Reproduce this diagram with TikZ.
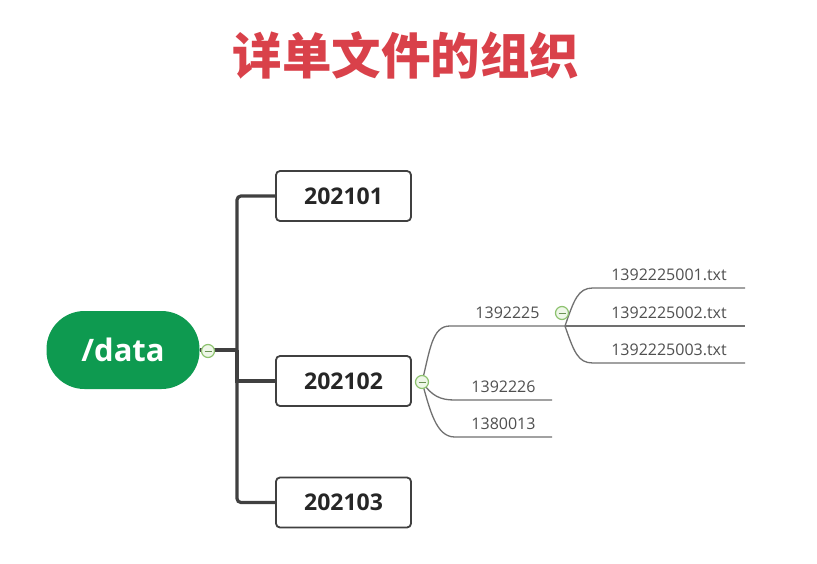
\documentclass[tikz,border=0pt]{standalone}
\usepackage{fontspec}
\setmainfont{Open Sans}
\newfontfamily\cjk{Noto Sans CJK SC}
\definecolor{titlered}{HTML}{D9414A}
\definecolor{pillgreen}{HTML}{0E9A50}
\definecolor{togglering}{HTML}{8DC26F}
\definecolor{togglefill}{HTML}{EEF7E8}
\definecolor{trunkgray}{HTML}{404040}
\definecolor{thingray}{HTML}{707070}
\definecolor{labelgray}{HTML}{505050}
\begin{document}
\begin{tikzpicture}[x=1pt,y=-1pt,
  pill/.style={rectangle, rounded corners=38pt, fill=pillgreen, text=white,
    minimum width=153pt, minimum height=78pt, inner sep=0pt,
    font=\fontsize{31}{36}\selectfont\bfseries},
  yearbox/.style={rectangle, rounded corners=4pt, draw=trunkgray, line width=1.8pt,
    fill=white, minimum width=135pt, minimum height=50pt, inner sep=0pt,
    text=black!85, font=\fontsize{23}{28}\selectfont\bfseries},
  toggle/.style={circle, draw=togglering, fill=togglefill, line width=1.2pt,
    minimum size=13pt, inner sep=0pt,
    path picture={\draw[togglering!75!black, line width=1pt]
      ([xshift=-3.5pt]path picture bounding box.center) --
      ([xshift=3.5pt]path picture bounding box.center);}},
  trunk/.style={draw=trunkgray, line width=3.2pt},
  thin/.style={draw=thingray, line width=1.3pt},
  leaf/.style={anchor=south, inner xsep=0pt, inner ysep=7pt, text depth=0pt,
    text=labelgray, font=\fontsize{16}{19}\selectfont}
]
\useasboundingbox[fill=white] (0,0) rectangle (817,563);

% title
\node[text=titlered, font=\cjk\bfseries\fontsize{49.5}{56}\selectfont] (title) at (406,55) {详单文件的组织};

% root
\node[pill] (data) at (123,350) {/data};
\node[yearbox] (b1) at (343.5,196) {202101};
\node[yearbox] (b2) at (343.5,381) {202102};
\node[yearbox] (b3) at (343.5,502.5) {202103};

\coordinate (j) at (237,350);
\draw[trunk] (data.east) -- (j);
\draw[trunk, rounded corners=4pt] (b1.west) -| (j) |- (b3.west);
\draw[trunk] (j) |- (b2.west);
\node[toggle] (t0) at (208,351) {};

% second level
\node[leaf, minimum width=115pt] (n1) at (507.5,326) {1392225};
\node[leaf, minimum width=97pt] (n2) at (503.5,400) {1392226};
\node[leaf, minimum width=97pt] (n3) at (503.5,437) {1380013};

\coordinate (s2) at (422,382);
\draw[thin] (s2) .. controls (430,350) and (432,326) .. (n1.south west) -- (n1.south east);
\draw[thin] (s2) .. controls (432,396) and (440,400) .. (n2.south west) -- (n2.south east);
\draw[thin] (s2) .. controls (430,410) and (436,437) .. (n3.south west) -- (n3.south east);
\node[toggle] (t2) at (422,382) {};

% third level
\node[leaf, minimum width=152pt] (f1) at (669,288) {1392225001.txt};
\node[leaf, minimum width=152pt] (f2) at (669,326) {1392225002.txt};
\node[leaf, minimum width=152pt] (f3) at (669,363) {1392225003.txt};

\coordinate (s1) at (565,326);
\draw[thin] (s1) .. controls (574,300) and (578,288) .. (f1.south west) -- (f1.south east);
\draw[thin] (s1) -- (f2.south west) -- (f2.south east);
\draw[thin] (s1) .. controls (574,352) and (578,363) .. (f3.south west) -- (f3.south east);
\node[toggle] (t1) at (562,313) {};
\end{tikzpicture}
\end{document}
